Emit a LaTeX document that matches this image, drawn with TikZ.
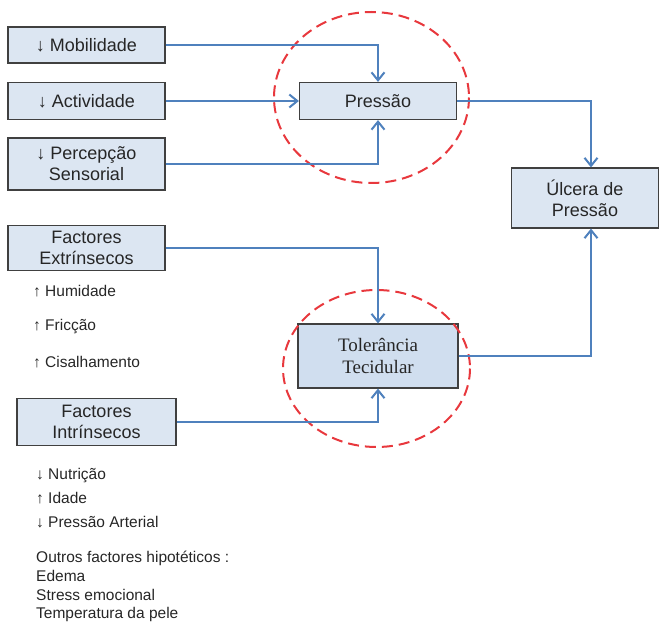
\documentclass[tikz,border=0pt]{standalone}
\usepackage{fontspec}
\setmainfont{Liberation Sans}
\newfontfamily\tolface{Liberation Serif}
\usetikzlibrary{arrows.meta}

\definecolor{boxfill}{HTML}{DCE6F2}
\definecolor{tolfill}{HTML}{D0DEEF}
\definecolor{linkblue}{HTML}{4F81BD}
\definecolor{ringred}{HTML}{E8383D}
\definecolor{inktext}{HTML}{262626}

\tikzset{
    factor/.style={draw=black!75, line width=1.2pt, fill=boxfill, inner sep=0pt,
        minimum width=157pt, minimum height=37pt, align=center, text=inktext,
        font=\fontsize{18}{21}\selectfont},
    link/.style={draw=linkblue, line width=2pt, -{Straight Barb[length=8pt,width=13pt]}},
    ring/.style={draw=ringred, line width=2pt, dash pattern=on 11pt off 6pt},
    note/.style={anchor=base west, inner sep=0pt, text=inktext, font=\fontsize{15.5}{18.7}\selectfont}
}

\begin{document}
\begin{tikzpicture}[x=1pt, y=-1pt] % pixel grid, y downwards

    \useasboundingbox (0,0) rectangle (662,623);

    % Risk factor boxes
    \node[factor, minimum height=36pt] (mob) at (86.5,45) {↓ Mobilidade};
    \node[factor] (act) at (86.5,101) {↓ Actividade};
    \node[factor, minimum height=52pt] (perc) at (86.5,164) {↓ Percepção\\Sensorial};
    \node[factor, minimum height=45pt] (ext) at (86.5,248) {Factores\\Extrínsecos};
    \node[factor, minimum width=159pt, minimum height=47pt] (int) at (96.5,422) {Factores\\Intrínsecos};

    % Central boxes
    \node[factor] (pres) at (378,101) {Pressão};
    \node[factor, fill=tolfill, minimum width=160pt, minimum height=64pt,
          font=\tolface\fontsize{19}{22}\selectfont] (tol) at (378,356) {Tolerância\\Tecidular};
    \node[factor, minimum width=147pt, minimum height=60pt] (ulc) at (585,198) {Úlcera de\\Pressão};

    % Dashed rings
    \draw[ring] (371.5,97.5) ellipse [x radius=97.5, y radius=85.5];
    \draw[ring] (376.5,368.5) ellipse [x radius=93.5, y radius=78.5];

    % Connectors
    \draw[link] (mob) -| (pres.north);
    \draw[link] (act) -- (pres);
    \draw[link] (perc) -| (pres.south);
    \draw[link] (ext) -| (tol.north);
    \draw[link] (int) -| (tol.south);
    \draw[link] (pres) -| ([xshift=6pt]ulc.north);
    \draw[link] (tol) -| ([xshift=6pt]ulc.south);

    % Extrinsic factors
    \node[note] (hum) at (33,296) {↑ Humidade};
    \node[note] (fric) at (33,330) {↑ Fricção};
    \node[note] (cis) at (33,367) {↑ Cisalhamento};

    % Intrinsic factors
    \node[note] (nut) at (36,479) {↓ Nutrição};
    \node[note] (age) at (36,503) {↑ Idade};
    \node[note] (bp) at (36,527) {↓ Pressão Arterial};
    \node[note, anchor=north west, align=left] (other) at (36,551)
        {Outros factores hipotéticos :\\Edema\\Stress emocional\\Temperatura da pele};

\end{tikzpicture}
\end{document}
